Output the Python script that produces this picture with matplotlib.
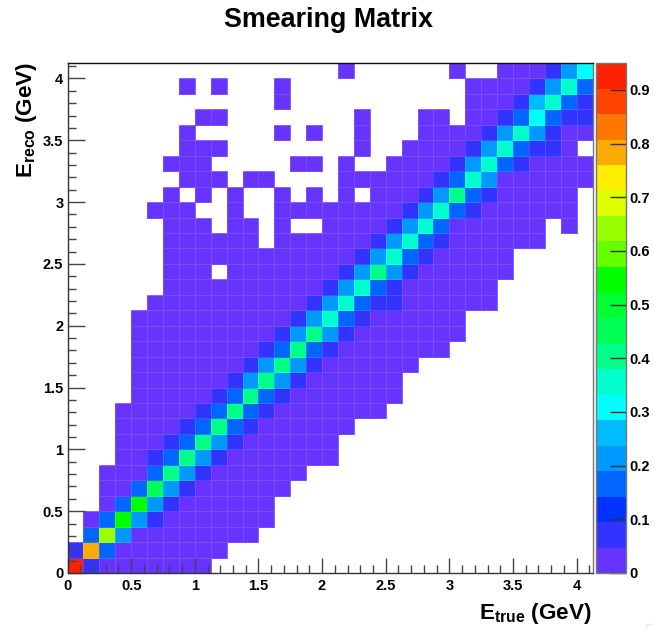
import numpy as np
import matplotlib
matplotlib.use("Agg")
import matplotlib.pyplot as plt
from matplotlib.colors import ListedColormap, BoundaryNorm
from matplotlib.lines import Line2D

plt.rcParams["font.family"] = ["Liberation Sans", "DejaVu Sans"]
plt.rcParams["font.weight"] = "bold"
plt.rcParams["mathtext.fontset"] = "custom"
plt.rcParams["mathtext.bf"] = "Liberation Sans:bold"

# bin edges in GeV, 33 bins on each axis
bin_width = 0.125
n_bins = 33

# smearing matrix, first row is the lowest E_reco bin, 0 means empty
matrix = [
    [.93,.07,.02,.02,.02,.02,.02,.02,.02,0,0, 0,0,0,0,0,0,0,0,0,0,0, 0,0,0,0,0,0,0,0,0,0,0],
    [.07,.78,.17,.02,.02,.02,.02,.02,.02,.02,0, 0,0,0,0,0,0,0,0,0,0,0, 0,0,0,0,0,0,0,0,0,0,0],
    [0,.17,.64,.21,.02,.02,.02,.02,.02,.02,.02, .02,0,0,0,0,0,0,0,0,0,0, 0,0,0,0,0,0,0,0,0,0,0],
    [0,.02,.17,.55,.21,.07,.02,.02,.02,.02,.02, .02,.02,0,0,0,0,0,0,0,0,0, 0,0,0,0,0,0,0,0,0,0,0],
    [0,0,.02,.17,.55,.21,.07,.02,.02,.02,.02, .02,.02,0,0,0,0,0,0,0,0,0, 0,0,0,0,0,0,0,0,0,0,0],
    [0,0,.02,.02,.17,.45,.21,.07,.02,.02,.02, .02,.02,.02,0,0,0,0,0,0,0,0, 0,0,0,0,0,0,0,0,0,0,0],
    [0,0,.02,.02,.02,.17,.40,.21,.07,.02,.02, .02,.02,.02,.02,0,0,0,0,0,0,0, 0,0,0,0,0,0,0,0,0,0,0],
    [0,0,0,.02,.02,.07,.17,.40,.21,.07,.02, .02,.02,.02,.02,.02,.02,0,0,0,0,0, 0,0,0,0,0,0,0,0,0,0,0],
    [0,0,0,.02,.02,.02,.07,.17,.40,.21,.07, .02,.02,.02,.02,.02,.02,0,0,0,0,0, 0,0,0,0,0,0,0,0,0,0,0],
    [0,0,0,.02,.02,.02,.02,.07,.17,.40,.17, .07,.02,.02,.02,.02,.02,.02,0,0,0,0, 0,0,0,0,0,0,0,0,0,0,0],
    [0,0,0,.02,.02,.02,.02,.02,.07,.17,.40, .17,.07,.02,.02,.02,.02,.02,.02,.02,0,0, 0,0,0,0,0,0,0,0,0,0,0],
    [0,0,0,0,.02,.02,.02,.02,.02,.07,.17, .40,.17,.07,.02,.02,.02,.02,.02,.02,.02,0, 0,0,0,0,0,0,0,0,0,0,0],
    [0,0,0,0,.02,.02,.02,.02,.02,.02,.07, .21,.40,.21,.07,.02,.02,.02,.02,.02,.02,0, 0,0,0,0,0,0,0,0,0,0,0],
    [0,0,0,0,.02,.02,.02,.02,.02,.02,.02, .07,.21,.40,.21,.07,.02,.02,.02,.02,.02,.02, 0,0,0,0,0,0,0,0,0,0,0],
    [0,0,0,0,.02,.02,.02,.02,.02,.02,.02, .02,.07,.17,.40,.17,.07,.02,.02,.02,.02,.02, .02,.02,0,0,0,0,0,0,0,0,0],
    [0,0,0,0,.02,.02,.02,.02,.02,.02,.02, .02,.02,.07,.21,.40,.21,.07,.02,.02,.02,.02, .02,.02,.02,0,0,0,0,0,0,0,0],
    [0,0,0,0,.02,.02,.02,.02,.02,.02,.02, .02,.02,.02,.07,.21,.36,.17,.07,.02,.02,.02, .02,.02,.02,0,0,0,0,0,0,0,0],
    [0,0,0,0,0,.02,.02,.02,.02,.02,.02, .02,.02,.02,.02,.07,.21,.36,.17,.07,.07,.02, .02,.02,.02,.02,.02,0,0,0,0,0,0],
    [0,0,0,0,0,0,.02,.02,.02,.02,.02, .02,.02,.02,.02,.02,.07,.21,.36,.17,.07,.02, .02,.02,.02,.02,.02,0,0,0,0,0,0],
    [0,0,0,0,0,0,.02,.02,.02,0,.02, .02,.02,.02,.02,.02,.02,.07,.21,.40,.21,.07, .02,.02,.02,.02,.02,.02,0,0,0,0,0],
    [0,0,0,0,0,0,.02,.02,.02,.02,.02, .02,.02,.02,.02,.02,.02,.02,.07,.21,.36,.17, .07,.02,.02,.02,.02,.02,0,0,0,0,0],
    [0,0,0,0,0,0,.02,.02,.02,.02,.02, .02,0,.02,.02,.02,.02,.02,.02,.07,.21,.36, .17,.07,.02,.02,.02,.02,.02,.02,0,0,0],
    [0,0,0,0,0,0,.02,.02,.02,0,.02, .02,0,.02,0,0,.02,.02,.02,.02,.07,.21, .36,.17,.02,.02,.02,.02,.02,.02,0,.02,0],
    [0,0,0,0,0,.02,.02,.02,0,0,.02, 0,0,.02,.02,.02,.02,.02,.02,.02,.02,.07, .21,.36,.17,.07,.02,.02,.02,.02,.02,.02,0],
    [0,0,0,0,0,0,.02,0,.02,0,.02, 0,0,.02,0,.02,0,.02,0,.02,.02,.02, .07,.21,.40,.17,.07,.02,.02,.02,.02,.02,0],
    [0,0,0,0,0,0,0,.02,.02,.02,0, .02,.02,0,0,0,0,.02,.02,.02,.02,.02, .02,.07,.17,.36,.21,.02,.02,.02,.02,.02,.02],
    [0,0,0,0,0,0,.02,.02,.02,0,0, 0,0,0,.02,.02,0,.02,0,0,.02,.02, .02,.02,.07,.21,.36,.17,.07,.02,.02,.02,.02],
    [0,0,0,0,0,0,0,.02,.02,.02,0, 0,0,0,0,0,0,0,.02,0,0,.02, .02,.02,.02,.07,.21,.36,.17,.07,.07,.02,0],
    [0,0,0,0,0,0,0,.02,0,0,0, 0,0,.02,0,.02,0,0,.02,0,0,0, .02,.02,.02,.02,.07,.21,.36,.21,.07,.02,.02],
    [0,0,0,0,0,0,0,0,.02,.02,0, 0,0,0,0,0,0,0,.02,0,0,0, .02,.02,0,.02,.02,.07,.17,.31,.17,.07,.07],
    [0,0,0,0,0,0,0,0,0,0,0, 0,0,.02,0,0,0,0,0,0,0,0, 0,0,0,.02,.02,.02,.07,.26,.36,.17,.07],
    [0,0,0,0,0,0,0,.02,0,.02,0, 0,0,.02,0,0,0,0,0,0,0,0, 0,0,0,.02,.02,.02,.02,.07,.21,.36,.17],
    [0,0,0,0,0,0,0,0,0,0,0, 0,0,0,0,0,0,.02,0,0,0,0, 0,0,.02,0,0,.02,.02,.02,.07,.21,.31],
]

# ROOT palette, 20 contours from 0 to 0.95
level_colors = ["#6633ff", "#3333ff", "#0033ff", "#0066ff", "#0099ff",
                "#00bbff", "#00ffff", "#00ffcc", "#00ff88", "#00ff55",
                "#00ff33", "#00ff00", "#66ff00", "#99ff00", "#ddff00",
                "#ffee00", "#ffaa00", "#ff7700", "#ff4400", "#ff2200"]
z_max = 0.95

x_ticks = [0, 0.5, 1, 1.5, 2, 2.5, 3, 3.5, 4]
x_labels = ["0", "0.5", "1", "1.5", "2", "2.5", "3", "3.5", "4"]
minor_ticks = np.arange(0, 4.11, 0.1)
z_ticks = [0, 0.1, 0.2, 0.3, 0.4, 0.5, 0.6, 0.7, 0.8, 0.9]
z_labels = ["0", "0.1", "0.2", "0.3", "0.4", "0.5", "0.6", "0.7", "0.8", "0.9"]

W, H = 654, 630
fig = plt.figure(figsize=(W / 100, H / 100), dpi=100)
ax = fig.add_axes([67.5 / W, (H - 573) / H, 525 / W, 510 / H])
cax = fig.add_axes([596 / W, (H - 573) / H, 30 / W, 510 / H])

z = np.ma.masked_equal(np.array(matrix), 0)
edges = np.arange(n_bins + 1) * bin_width
cmap = ListedColormap(level_colors)
norm = BoundaryNorm(np.linspace(0, z_max, len(level_colors) + 1), cmap.N)
mesh = ax.pcolormesh(edges, edges, z, cmap=cmap, norm=norm,
                     edgecolors=(1, 1, 1, 0.13), linewidth=0.6)

ax.set_xlim(0, edges[-1])
ax.set_ylim(0, edges[-1])
ax.set_xticks(x_ticks, x_labels)
ax.set_yticks(x_ticks, x_labels)
ax.set_xticks(minor_ticks, minor=True)
ax.set_yticks(minor_ticks, minor=True)
ax.tick_params(axis="x", which="major", direction="in", length=11, width=1,
               color="#444444", labelsize=10.5, pad=4.5)
ax.tick_params(axis="y", which="major", direction="in", length=12, width=1,
               color="#444444", labelsize=10.5, pad=3)
ax.tick_params(which="minor", direction="in", length=5.7, width=1, color="#444444")
for s in ax.spines.values():
    s.set_linewidth(1)
ax.spines["left"].set_color("#333333")
ax.spines["bottom"].set_color("#333333")
ax.spines["right"].set_color("#777777")
ax.spines["top"].set_color("#111111")

cb = fig.colorbar(mesh, cax=cax, ticks=z_ticks, spacing="proportional")
cb.ax.set_yticklabels(z_labels)
cb.minorticks_off()
cb.outline.set_edgecolor("#777777")
cb.outline.set_linewidth(1)
cax.tick_params(axis="y", direction="in", length=11.5, width=1,
                color="#333333", labelsize=10.5, pad=2.5)

fig.text(329 / W, 1 - 27 / H, "Smearing Matrix", ha="center", va="baseline",
         fontsize=19.4, fontweight="bold")
fig.text(592 / W, 1 - 619.5 / H, r"$\mathbf{E}_{\mathbf{true}}$ (GeV)", ha="right",
         va="baseline", fontsize=16.2, fontweight="bold")
fig.text(39 / W, 1 - 62 / H, r"$\mathbf{E}_{\mathbf{reco}}$ (GeV)", ha="right",
         va="top", rotation=90, fontsize=16.2, fontweight="bold")

# faint corner left in the bottom right of the screenshot
fig.add_artist(Line2D([1, 645.5 / W, 645.5 / W], [1 - 623.5 / H, 1 - 623.5 / H, 0],
                      color="#eeeeee", lw=1))

plt.savefig("out.png", dpi=100)
